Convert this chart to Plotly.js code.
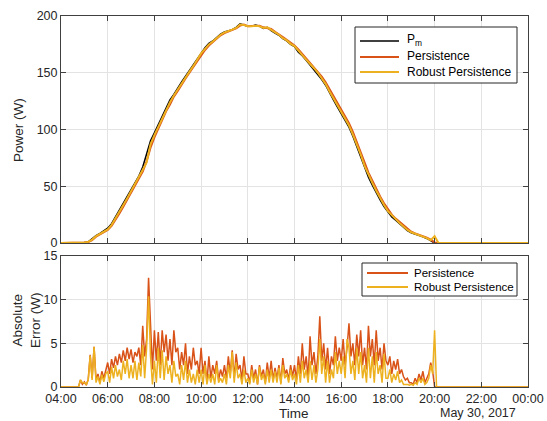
<!DOCTYPE html>
<html>
<head>
<meta charset="utf-8">
<script src="https://cdn.plot.ly/plotly-3.0.1.min.js"></script>
<style>
html,body{margin:0;padding:0;background:#fff;}
#chart{width:547px;height:421px;}
</style>
</head>
<body>
<div id="chart"></div>
<script>
// ---- Data ----
// Top panel: 10-minute samples from 04:00 to 20:10, plus midnight
const powerMeasured = [
  0,0,0,0,0,0.3,0.5,1,4,6.5,8.5,10.5,
  13,17,23,29,35,41,
  47,53,59,67,78,90,
  97,104,112,119,126,131,
  137,142,147,152,157,163,
  168,172,176,178,181,184,
  186,187,188,190,193,192,
  191,191,192,191,189,190,
  187,185,183,180,178,175,
  173,168,165,161,157,153,
  149,144,139,132,126,120,
  114,109,102,94,85,76,
  66,58,51,44,38,32,
  27,23,20,17,14,11,
  9,8,7,5.5,4,2,
  0,0,
  0
];
const powerPersistence = [
  0,0,0,0,0,0.1,0.4,0.8,2.5,5.5,7.5,9.5,
  11.5,15,20,26,32,38,
  44,50,56,63,72,84,
  93,101,108,116,122,129,
  134,140,145,150,155,160,
  166,170,174,177,180,183,
  185,186.5,187.5,189,191.5,192.5,
  191,191,191.5,191.5,190,189.5,
  188.5,186,184,181.5,179,176.5,
  174,170.5,166.5,163,159,155,
  151,146.5,141.5,135.5,129.5,123,
  117,111.5,105.5,98,89.5,80.5,
  71,62,54.5,47.5,41,35,
  29.5,25,21.5,18.5,15.5,12.5,
  10,8.5,7.5,6.2,4.8,3,
  0.5,0,
  0
];
const powerRobust = [
  0,0,0,0,0,0.2,0.4,1,3,6,8,10,
  12,16,21.5,27.5,33.5,39.5,
  45.5,51.5,57.5,64.5,71,87,
  95,102.5,110,117.5,124,130,
  135.5,141,146,151,156,161.5,
  167,171,175,177.5,180.5,183.5,
  185.5,186.5,188,189.5,192.5,192,
  191,191,191.5,191,189.5,190,
  187.5,185.5,183.5,180.5,178.5,175.5,
  173.5,169,165.5,161.5,158,154,
  150,145,140,133.5,127.5,121,
  115,110,103.5,95.5,87,78,
  68,60,53,46,39.5,33.5,
  28,24,21,17.5,14.5,11.5,
  9.5,8.2,7.2,5.8,4.3,2.5,
  6,0,
  0
];

// Bottom panel: 5-minute samples from 04:00 to 20:05, plus midnight (one row per hour)
const errPersistence = [
  0,0,0,0,0,0,0,0,0,0,0.8,0.3,
  0.6,0.2,0.9,3.7,1.0,4.6,0.8,1.5,0.5,1.8,1.0,2.0,
  2.8,1.5,3.2,2.2,3.5,2.5,3.8,2.8,4.2,3.0,4.5,3.2,
  4.3,2.8,4.0,3.5,4.5,2.5,7.0,3.5,5.5,12.5,6.5,2.0,
  6.5,3.0,6.3,2.5,6.5,4.0,6.0,3.0,5.5,2.5,6.5,4.0,
  4.5,2.0,4.0,2.5,5.0,1.5,3.5,2.0,4.5,2.5,3.0,1.5,
  4.5,1.5,3.0,0.5,3.5,1.0,2.5,1.5,3.0,0.8,2.0,1.2,
  2.5,1.0,3.5,1.5,4.2,1.0,3.8,2.0,2.5,0.8,3.5,1.5,
  1.5,0.5,2.5,1.0,2.0,0.3,2.5,1.2,2.0,0.5,2.8,1.0,
  3.0,0.8,2.2,1.0,2.5,0.5,3.3,1.5,2.0,0.8,2.5,1.2,
  2.5,0.8,3.5,1.5,5.0,2.0,3.5,1.0,5.8,2.5,4.0,1.5,
  3.5,8.1,3.0,5.0,2.0,4.5,1.5,3.5,2.5,5.8,3.0,4.5,
  3.0,5.5,2.5,4.5,7.3,3.5,5.0,2.5,6.0,3.5,6.5,2.5,
  4.5,2.0,7.0,3.5,5.5,2.5,6.5,3.0,4.5,2.0,5.0,3.0,
  2.5,3.5,1.5,3.0,2.0,3.2,1.5,2.0,1.2,0.8,1.0,0.5,
  0.5,0.3,1.0,0.5,1.5,0.8,1.8,0.5,1.0,1.5,2.8,1.8,
  0,0,
  0
];
const errRobust = [
  0,0,0,0,0,0,0,0,0,0,0.8,0.5,
  0.5,0.3,0.8,3.6,0.8,4.6,0.5,1.2,0.3,1.4,0.6,1.5,
  1.8,0.5,2.3,1.0,2.5,1.2,2.0,0.8,3.0,1.5,3.2,1.0,
  2.5,1.0,3.0,0.8,2.8,1.2,4.8,1.0,4.5,10.4,3.5,0.3,
  3.0,0.5,4.5,1.0,4.2,0.8,3.5,1.5,2.5,0.5,3.0,1.2,
  1.5,0.3,2.5,0.8,3.0,0.5,2.0,0.5,1.5,0.3,2.0,0.5,
  2.0,0.3,2.5,0.3,1.5,0.5,1.5,0.3,2.5,0.5,1.0,0.5,
  1.5,0.3,2.5,1.0,4.0,0.5,2.8,1.0,1.5,0.3,2.0,0.5,
  1.0,0.3,2.0,0.5,1.5,0.3,2.3,0.8,1.5,0.3,2.0,0.5,
  2.0,0.5,1.8,0.5,2.2,0.3,2.5,1.0,1.5,0.5,2.0,0.8,
  1.5,0.3,2.5,0.5,3.0,1.0,2.0,0.5,3.0,0.8,2.5,0.5,
  2.0,5.5,1.5,3.5,0.5,3.0,0.5,2.0,1.0,4.0,1.5,3.0,
  1.5,3.5,1.0,5.5,4.5,1.5,3.0,0.8,4.5,1.5,4.0,1.0,
  2.5,0.5,4.5,1.0,3.5,0.5,4.0,1.5,2.5,0.5,3.8,1.0,
  1.0,2.0,0.5,1.5,0.8,1.8,0.5,0.8,0.3,0.3,0.3,0.2,
  0.3,0.2,0.5,0.3,1.0,0.5,1.0,0.3,0.5,1.0,2.5,1.5,
  6.5,0,
  0
];

const seriesNames = ['P<sub>m</sub>', 'Persistence', 'Robust Persistence'];
const seriesColors = ['#000000', '#D95319', '#EDB120'];
const xTickFormat = '%H:%M';
const dateLabel = 'May 30, 2017';

// time stamps for the sample grids (category positions)
function buildTimes(stepMin, count) {
  const out = [];
  for (let i = 0; i < count; i++) {
    const m = 4 * 60 + i * stepMin;
    const hh = String(Math.floor(m / 60)).padStart(2, '0');
    const mm = String(m % 60).padStart(2, '0');
    out.push('2017-05-30 ' + hh + ':' + mm);
  }
  out.push('2017-05-31 00:00');
  return out;
}
const tPower = buildTimes(10, powerMeasured.length - 1);
const tErr = buildTimes(5, errPersistence.length - 1);

// ---- Layout helpers (pixel -> paper) ----
const W = 547, H = 421, ML = 61, MR = 19, MT = 16, MB = 34;
const PW = W - ML - MR, PH = H - MT - MB;
const px = v => (v - ML) / PW;
const py = v => (H - MB - v) / PH;

const font = {family: 'Liberation Sans, Arial, Helvetica, sans-serif', size: 12, color: '#262626'};
const axisCommon = {
  showline: true, linecolor: '#404040', linewidth: 1, mirror: 'allticks',
  ticks: 'inside', ticklen: 5, tickcolor: '#404040', tickwidth: 1,
  showgrid: true, gridcolor: '#e3e3e3', gridwidth: 1, zeroline: false,
  tickfont: {size: 12.5, color: '#262626'}
};
const xRange = ['2017-05-30 04:00', '2017-05-31 00:00'];

const traces = [
  {x: tPower, y: powerMeasured, name: seriesNames[0], type: 'scatter', mode: 'lines',
   line: {color: seriesColors[0], width: 1.5}, xaxis: 'x', yaxis: 'y'},
  {x: tPower, y: powerPersistence, name: seriesNames[1], type: 'scatter', mode: 'lines',
   line: {color: seriesColors[1], width: 2}, xaxis: 'x', yaxis: 'y'},
  {x: tPower, y: powerRobust, name: seriesNames[2], type: 'scatter', mode: 'lines',
   line: {color: seriesColors[2], width: 2}, xaxis: 'x', yaxis: 'y'},
  {x: tErr, y: errPersistence, name: seriesNames[1], type: 'scatter', mode: 'lines',
   line: {color: seriesColors[1], width: 1.5}, xaxis: 'x2', yaxis: 'y2'},
  {x: tErr, y: errRobust, name: seriesNames[2], type: 'scatter', mode: 'lines',
   line: {color: seriesColors[2], width: 1.5}, xaxis: 'x2', yaxis: 'y2'}
];

// custom legends (MATLAB-style boxes)
const shapes = [];
const annotations = [];
function addLegend(box, rows, sx0, sx1, tx, fs) {
  shapes.push({type: 'rect', xref: 'paper', yref: 'paper',
    x0: px(box[0]), x1: px(box[1]), y0: py(box[3]), y1: py(box[2]),
    line: {color: '#262626', width: 1}, fillcolor: '#ffffff', layer: 'above'});
  rows.forEach(r => {
    shapes.push({type: 'line', xref: 'paper', yref: 'paper',
      x0: px(sx0), x1: px(sx1), y0: py(r.y), y1: py(r.y),
      line: {color: seriesColors[r.i], width: r.w}, layer: 'above'});
    annotations.push({text: seriesNames[r.i], xref: 'paper', yref: 'paper',
      x: px(tx), y: py(r.y - 0.5), xanchor: 'left', yanchor: 'middle', showarrow: false,
      borderpad: 0, font: {size: fs, color: '#000000'}});
  });
}
addLegend([355, 517, 27, 83],
  [{i: 0, y: 41, w: 1.5}, {i: 1, y: 57, w: 2}, {i: 2, y: 72, w: 2}], 360, 399, 406, 12);
addLegend([362, 517, 263, 296],
  [{i: 1, y: 273, w: 2}, {i: 2, y: 287, w: 2}], 367, 408, 413, 11.5);

annotations.push({text: dateLabel, xref: 'paper', yref: 'paper', x: px(518), y: py(413),
  xanchor: 'right', yanchor: 'middle', showarrow: false, font: {size: 12.5, color: '#262626'}});
annotations.push({text: 'Time', xref: 'paper', yref: 'paper', x: px(294), y: py(413),
  xanchor: 'center', yanchor: 'middle', showarrow: false, font: {size: 13.5, color: '#262626'}});
annotations.push({text: 'Power (W)', xref: 'paper', yref: 'paper', x: px(18), y: py(130),
  xanchor: 'center', yanchor: 'middle', textangle: -90, showarrow: false,
  font: {size: 13.5, color: '#262626'}});
annotations.push({text: 'Absolute<br>Error (W)', xref: 'paper', yref: 'paper', x: px(26), y: py(321),
  xanchor: 'center', yanchor: 'middle', textangle: -90, showarrow: false,
  font: {size: 13.5, color: '#262626'}});

const layout = {
  width: W, height: H,
  margin: {l: ML, r: MR, t: MT, b: MB, pad: 0},
  paper_bgcolor: '#ffffff', plot_bgcolor: '#ffffff',
  font: font,
  showlegend: false,
  xaxis: Object.assign({}, axisCommon, {
    type: 'date', range: xRange, domain: [0, 1], anchor: 'y',
    tick0: '2017-05-30 04:00', dtick: 7200000, showticklabels: false
  }),
  yaxis: Object.assign({}, axisCommon, {
    range: [0, 200], dtick: 50, domain: [py(243), 1], anchor: 'x'
  }),
  xaxis2: Object.assign({}, axisCommon, {
    type: 'date', range: xRange, domain: [0, 1], anchor: 'y2',
    tick0: '2017-05-30 04:00', dtick: 7200000, tickformat: xTickFormat
  }),
  yaxis2: Object.assign({}, axisCommon, {
    range: [0, 15], dtick: 5, domain: [0, py(256)], anchor: 'x2'
  }),
  shapes: shapes,
  annotations: annotations
};

Plotly.newPlot('chart', traces, layout, {displayModeBar: false, staticPlot: true});
</script>
</body>
</html>
